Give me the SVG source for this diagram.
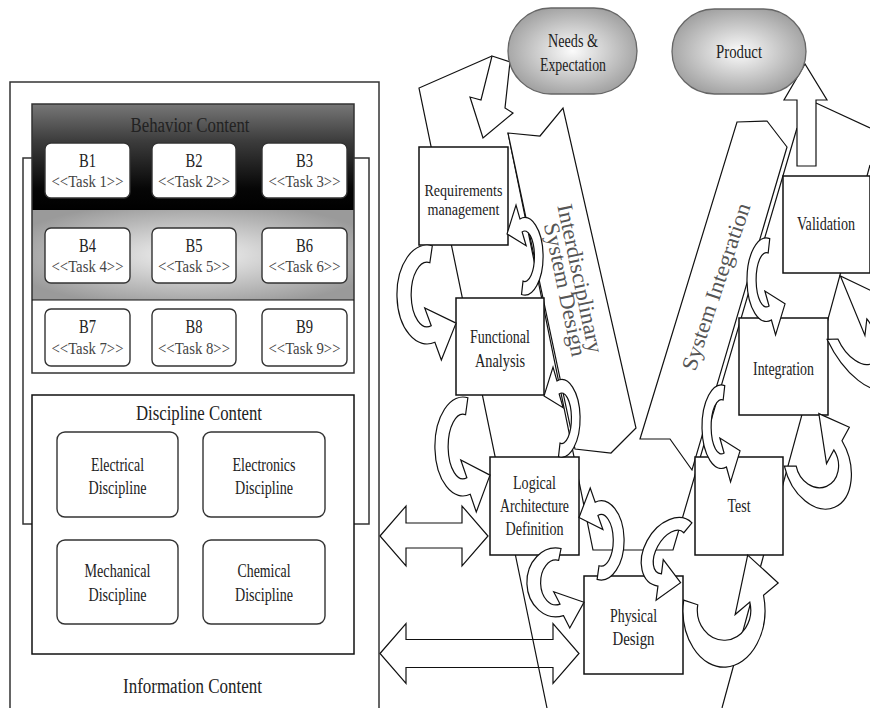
<svg xmlns="http://www.w3.org/2000/svg" width="870" height="708" viewBox="0 0 870 708" font-family="'Liberation Serif','Times New Roman',serif">
<style>
  .ln { fill:none; stroke:#111; stroke-width:1.2 }
  .sh { fill:#fff; stroke:#111; stroke-width:1.2; stroke-linejoin:miter }
  .box { fill:#fff; stroke:#111; stroke-width:1.5 }
  .frame { fill:none; stroke:#333; stroke-width:1.5 }
  .rb { fill:#fff; stroke:#333; stroke-width:1.4 }
  .ca { fill:#fff; stroke:#111; stroke-width:1.2 }
  .oval { fill:url(#gOval); stroke:#666; stroke-width:1.3 }
  text { font-family:"Liberation Serif","Times New Roman",serif; fill:#222; text-anchor:middle }
  .f20 { font-size:20px }
  .f18 { font-size:18px }
  .f16 { font-size:16px; fill:#444 }
  .f17 { font-size:16.5px }
  .rot { font-size:22px; fill:#555 }
</style>
<defs>
  <linearGradient id="gDark" x1="0" y1="0" x2="0" y2="1">
    <stop offset="0" stop-color="#777"/>
    <stop offset="0.35" stop-color="#3c3c3c"/>
    <stop offset="0.8" stop-color="#060606"/>
    <stop offset="1" stop-color="#000"/>
  </linearGradient>
  <radialGradient id="gGray" cx="0.5" cy="0.5" r="0.6">
    <stop offset="0" stop-color="#f4f4f4"/>
    <stop offset="1" stop-color="#9a9a9a"/>
  </radialGradient>
  <radialGradient id="gOval" cx="0.5" cy="0.5" r="0.6">
    <stop offset="0" stop-color="#fbfbfb"/>
    <stop offset="1" stop-color="#979797"/>
  </radialGradient>
  <path id="carrow" vector-effect="non-scaling-stroke" d="M5.9,-45.3 A34,46 0 1,0 8.8,44.4 L16.1,60.9 L32.7,26.6 L-2.7,12.5 L4.7,29 A18,30 0 1,1 3.1,-29.5 Z"/>
</defs>

<rect width="870" height="708" fill="#fff"/>

<!-- ===== Left panel ===== -->
<g id="information-content">
  <rect class="frame" x="10" y="82" width="369" height="650"/>
  <rect class="frame" x="23" y="158" width="346" height="366"/>
  <text class="f20" x="192.5" y="693" textLength="139" lengthAdjust="spacingAndGlyphs">Information Content</text>
</g>

<g id="behavior-content">
  <rect x="32" y="104" width="322" height="106" fill="url(#gDark)"/>
  <rect x="32" y="210" width="322" height="90" fill="url(#gGray)"/>
  <rect x="32" y="300" width="322" height="73" fill="#fff"/>
  <rect class="frame" x="32" y="104" width="322" height="269"/>
  <line class="ln" x1="32" y1="300" x2="354" y2="300"/>
  <text class="f20" x="190" y="132" textLength="119" lengthAdjust="spacingAndGlyphs" fill="#1a1a1a">Behavior Content</text>
</g>

<g id="b1"><rect class="rb" x="45" y="143" width="85" height="55" rx="6"/>
  <text class="f18" x="87.5" y="167" textLength="17" lengthAdjust="spacingAndGlyphs">B1</text>
  <text class="f16" x="87.5" y="187" textLength="72" lengthAdjust="spacingAndGlyphs">&lt;&lt;Task 1&gt;&gt;</text></g>
<g id="b2"><rect class="rb" x="152" y="143" width="84" height="55" rx="6"/>
  <text class="f18" x="194" y="167" textLength="17" lengthAdjust="spacingAndGlyphs">B2</text>
  <text class="f16" x="194" y="187" textLength="72" lengthAdjust="spacingAndGlyphs">&lt;&lt;Task 2&gt;&gt;</text></g>
<g id="b3"><rect class="rb" x="262" y="143" width="85" height="55" rx="6"/>
  <text class="f18" x="304.5" y="167" textLength="17" lengthAdjust="spacingAndGlyphs">B3</text>
  <text class="f16" x="304.5" y="187" textLength="72" lengthAdjust="spacingAndGlyphs">&lt;&lt;Task 3&gt;&gt;</text></g>
<g id="b4"><rect class="rb" x="45" y="228" width="85" height="55" rx="6"/>
  <text class="f18" x="87.5" y="252" textLength="17" lengthAdjust="spacingAndGlyphs">B4</text>
  <text class="f16" x="87.5" y="272" textLength="72" lengthAdjust="spacingAndGlyphs">&lt;&lt;Task 4&gt;&gt;</text></g>
<g id="b5"><rect class="rb" x="152" y="228" width="84" height="55" rx="6"/>
  <text class="f18" x="194" y="252" textLength="17" lengthAdjust="spacingAndGlyphs">B5</text>
  <text class="f16" x="194" y="272" textLength="72" lengthAdjust="spacingAndGlyphs">&lt;&lt;Task 5&gt;&gt;</text></g>
<g id="b6"><rect class="rb" x="262" y="228" width="85" height="55" rx="6"/>
  <text class="f18" x="304.5" y="252" textLength="17" lengthAdjust="spacingAndGlyphs">B6</text>
  <text class="f16" x="304.5" y="272" textLength="72" lengthAdjust="spacingAndGlyphs">&lt;&lt;Task 6&gt;&gt;</text></g>
<g id="b7"><rect class="rb" x="45" y="309" width="85" height="57" rx="6"/>
  <text class="f18" x="87.5" y="333" textLength="17" lengthAdjust="spacingAndGlyphs">B7</text>
  <text class="f16" x="87.5" y="354" textLength="72" lengthAdjust="spacingAndGlyphs">&lt;&lt;Task 7&gt;&gt;</text></g>
<g id="b8"><rect class="rb" x="152" y="309" width="84" height="57" rx="6"/>
  <text class="f18" x="194" y="333" textLength="17" lengthAdjust="spacingAndGlyphs">B8</text>
  <text class="f16" x="194" y="354" textLength="72" lengthAdjust="spacingAndGlyphs">&lt;&lt;Task 8&gt;&gt;</text></g>
<g id="b9"><rect class="rb" x="262" y="309" width="85" height="57" rx="6"/>
  <text class="f18" x="304.5" y="333" textLength="17" lengthAdjust="spacingAndGlyphs">B9</text>
  <text class="f16" x="304.5" y="354" textLength="72" lengthAdjust="spacingAndGlyphs">&lt;&lt;Task 9&gt;&gt;</text></g>

<g id="discipline-content">
  <rect class="box" x="32" y="395" width="322" height="259" stroke="#333"/>
  <text class="f20" x="199" y="420" textLength="126" lengthAdjust="spacingAndGlyphs">Discipline Content</text>
</g>
<g id="electrical"><rect class="rb" x="57" y="432" width="121" height="85" rx="8"/>
  <text class="f18" x="117.5" y="471" textLength="53" lengthAdjust="spacingAndGlyphs">Electrical</text>
  <text class="f18" x="117.5" y="494" textLength="58" lengthAdjust="spacingAndGlyphs">Discipline</text></g>
<g id="electronics"><rect class="rb" x="203" y="432" width="122" height="85" rx="8"/>
  <text class="f18" x="264" y="471" textLength="63" lengthAdjust="spacingAndGlyphs">Electronics</text>
  <text class="f18" x="264" y="494" textLength="58" lengthAdjust="spacingAndGlyphs">Discipline</text></g>
<g id="mechanical"><rect class="rb" x="57" y="540" width="121" height="84" rx="8"/>
  <text class="f18" x="117.5" y="577" textLength="66" lengthAdjust="spacingAndGlyphs">Mechanical</text>
  <text class="f18" x="117.5" y="601" textLength="58" lengthAdjust="spacingAndGlyphs">Discipline</text></g>
<g id="chemical"><rect class="rb" x="203" y="540" width="122" height="84" rx="8"/>
  <text class="f18" x="264" y="577" textLength="53" lengthAdjust="spacingAndGlyphs">Chemical</text>
  <text class="f18" x="264" y="601" textLength="58" lengthAdjust="spacingAndGlyphs">Discipline</text></g>

<!-- ===== V model ===== -->
<g id="connectors">
  <polygon class="sh" points="380,536 406,506 406,523 462,523 462,506 488,536 462,566 462,548 406,548 406,566"/>
  <polygon class="sh" points="380,653.5 406,623.5 406,639.5 553,639.5 553,623.5 579,653.5 553,683.5 553,667.5 406,667.5 406,683.5"/>
  <polyline class="ln" points="492,56 419,88 547,708"/>
  <polyline class="ln" points="508,133 593,550 673,550 797,128"/>
  <line class="ln" x1="816" y1="103" x2="870" y2="128"/>
  <line class="ln" x1="722" y1="708" x2="870" y2="165"/>
  <polygon class="sh" points="508,133 540,136 563,108 636,428 611,453 575,449"/>
  <polygon class="sh" points="640,439 670,439 692,470 787,147 767,121 737,122"/>
  <polygon class="sh" points="492,56 510,62 505,108 513,113 483,138 470,97 481,100"/>
  <polygon class="sh" points="797,166 797,100 784,100 805,64 827,100 816,100 816,166"/>
</g>

<g id="labels-bands">
  <text class="rot" transform="translate(573,280) rotate(78)" textLength="152" lengthAdjust="spacingAndGlyphs">Interdisciplinary</text>
  <text class="rot" transform="translate(558,291) rotate(78)" textLength="136" lengthAdjust="spacingAndGlyphs">System Design</text>
  <text class="rot" transform="translate(723,289) rotate(-71.5)" textLength="175" lengthAdjust="spacingAndGlyphs">System Integration</text>
</g>

<g id="needs"><rect class="oval" x="508" y="8" width="129" height="86" rx="43"/>
  <text class="f18" x="573" y="47" textLength="50" lengthAdjust="spacingAndGlyphs">Needs &amp;</text>
  <text class="f18" x="573" y="71" textLength="66" lengthAdjust="spacingAndGlyphs">Expectation</text></g>
<g id="product"><rect class="oval" x="672" y="9" width="134" height="85" rx="42.5"/>
  <text class="f18" x="739" y="58" textLength="46" lengthAdjust="spacingAndGlyphs">Product</text></g>

<g id="requirements"><rect class="box" x="419" y="147" width="89" height="98"/>
  <text class="f17" x="463.5" y="196" textLength="78" lengthAdjust="spacingAndGlyphs">Requirements</text>
  <text class="f17" x="463.5" y="215" textLength="72" lengthAdjust="spacingAndGlyphs">management</text></g>
<g id="functional"><rect class="box" x="456" y="298" width="88" height="97"/>
  <text class="f18" x="500" y="343" textLength="60" lengthAdjust="spacingAndGlyphs">Functional</text>
  <text class="f18" x="500" y="367" textLength="50" lengthAdjust="spacingAndGlyphs">Analysis</text></g>
<g id="logical"><rect class="box" x="490" y="457" width="89" height="98"/>
  <text class="f18" x="534.5" y="489" textLength="43" lengthAdjust="spacingAndGlyphs">Logical</text>
  <text class="f18" x="534.5" y="512" textLength="69" lengthAdjust="spacingAndGlyphs">Architecture</text>
  <text class="f18" x="534.5" y="535" textLength="58" lengthAdjust="spacingAndGlyphs">Definition</text></g>
<g id="physical"><rect class="box" x="584" y="576" width="99" height="98"/>
  <text class="f18" x="633.5" y="622" textLength="47" lengthAdjust="spacingAndGlyphs">Physical</text>
  <text class="f18" x="633.5" y="645" textLength="42" lengthAdjust="spacingAndGlyphs">Design</text></g>
<g id="test"><rect class="box" x="695" y="457" width="88" height="98"/>
  <text class="f18" x="739" y="512" textLength="23" lengthAdjust="spacingAndGlyphs">Test</text></g>
<g id="integration"><rect class="box" x="739" y="318" width="89" height="97"/>
  <text class="f18" x="783.5" y="375" textLength="61" lengthAdjust="spacingAndGlyphs">Integration</text></g>
<g id="validation"><rect class="box" x="783" y="176" width="87" height="97"/>
  <text class="f18" x="826" y="230" textLength="58" lengthAdjust="spacingAndGlyphs">Validation</text></g>

<g id="loop-arrows">
  <use href="#carrow" class="ca" transform="translate(427.1,294.5) scale(0.885,1.076)"/>
  <use href="#carrow" class="ca" transform="translate(463,446.5) scale(0.825,1.076)"/>
  <use href="#carrow" class="ca" transform="translate(556,582.4) scale(0.855,0.748)"/>
  <use href="#carrow" class="ca" transform="translate(524.7,256.3) rotate(180) scale(0.54,0.842)"/>
  <use href="#carrow" class="ca" transform="translate(561.7,418.3) rotate(180) scale(0.54,0.842)"/>
  <use href="#carrow" class="ca" transform="translate(601.1,540.4) rotate(180) scale(0.675,0.86)"/>
  <use href="#carrow" class="ca" transform="translate(721.4,426.7) scale(0.57,0.907)"/>
  <use href="#carrow" class="ca" transform="translate(766.4,279.7) scale(0.57,0.907)"/>
  <use href="#carrow" class="ca" transform="translate(670,552) rotate(30) scale(0.75,0.8)"/>
  <use href="#carrow" class="ca" transform="translate(724,610) rotate(-90) scale(1.68,0.89)"/>
  <use href="#carrow" class="ca" transform="translate(817,463) rotate(-110) scale(1.4,0.7)"/>
  <use href="#carrow" class="ca" transform="translate(856,335) rotate(-120) scale(1.8,0.6)"/>
</g>
</svg>
